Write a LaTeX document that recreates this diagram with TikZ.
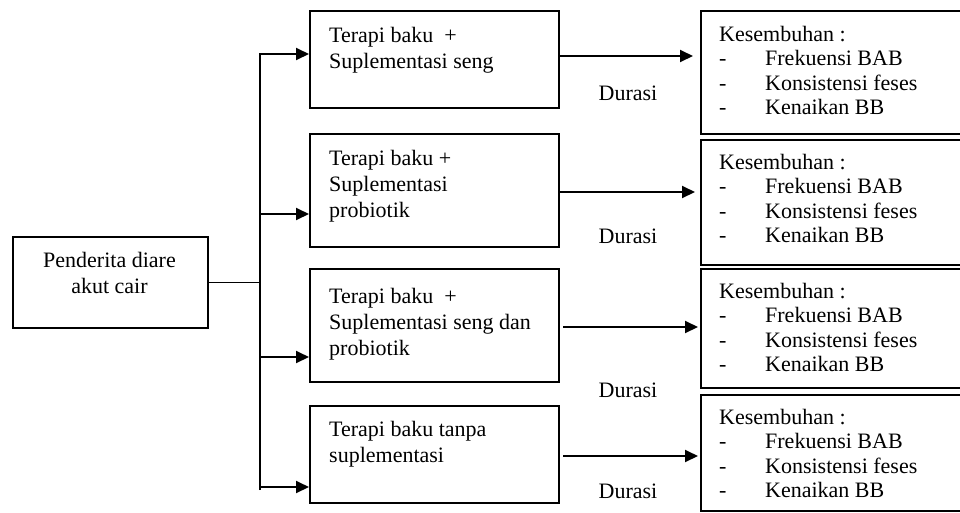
\documentclass[tikz,border=0pt]{standalone}
\usepackage{fontspec}
\setmainfont{Liberation Serif}
\usetikzlibrary{arrows.meta}

% multi-line text whose reference point is the baseline of its first line
\newcommand{\boxlines}[2][250pt]{\parbox[t]{#1}{\raggedright #2}}
\newcommand{\centerlines}[2][190pt]{\parbox[t]{#1}{\centering #2}}
\newcommand{\dashitem}[1]{\makebox[46pt][l]{-}#1}

\tikzset{
  box/.style={draw, line width=1.9pt, inner sep=0pt, anchor=north west},
  txt/.style={inner sep=0pt, font=\fontsize{22}{26}\selectfont},
  restxt/.style={inner sep=0pt, anchor=base west, font=\fontsize{22}{24.6}\selectfont},
  link/.style={line width=1.9pt},
  arr/.style={link, -{Triangle[length=13pt,width=12pt]}},
}

\begin{document}
\begin{tikzpicture}[x=1pt,y=-1pt]
\useasboundingbox (0,0) rectangle (960,512);
\clip (0,0) rectangle (960,512);

% source
\node[box, minimum width=195pt, minimum height=91pt] (src) at (12,236) {};
\node[txt, anchor=base] (srct) at (109.5,267) {\centerlines{Penderita diare\\akut cair}};

% treatment boxes
\node[box, minimum width=249pt, minimum height=97pt]  (m1) at (309,10)  {};
\node[box, minimum width=249pt, minimum height=113pt] (m2) at (309,133) {};
\node[box, minimum width=249pt, minimum height=113pt] (m3) at (309,268) {};
\node[box, minimum width=249pt, minimum height=97pt]  (m4) at (309,405) {};

\node[txt, anchor=base west] (m1t) at (329,42)  {\boxlines{Terapi baku\ \ +\\Suplementasi seng}};
\node[txt, anchor=base west] (m2t) at (329,165) {\boxlines{Terapi baku +\\Suplementasi\\probiotik}};
\node[txt, anchor=base west] (m3t) at (329,303) {\boxlines{Terapi baku\ \ +\\Suplementasi seng dan\\probiotik}};
\node[txt, anchor=base west] (m4t) at (329,436) {\boxlines{Terapi baku tanpa\\suplementasi}};

% outcome boxes (running off the right edge)
\node[box, minimum width=280pt, minimum height=123pt] (r1) at (700,10)  {};
\node[box, minimum width=280pt, minimum height=125pt] (r2) at (700,139) {};
\node[box, minimum width=280pt, minimum height=119pt] (r3) at (700,268) {};
\node[box, minimum width=280pt, minimum height=116pt] (r4) at (700,394) {};

\foreach \n/\y in {1/41, 2/169, 3/298, 4/424}{
  \node[restxt] (r\n t) at (719,\y)
    {\boxlines[240pt]{Kesembuhan :\\\dashitem{Frekuensi BAB}\\\dashitem{Konsistensi feses}\\\dashitem{Kenaikan BB}}};
}

% duration labels
\node[txt, anchor=base] (d1) at (628,100) {Durasi};
\node[txt, anchor=base] (d2) at (628,243) {Durasi};
\node[txt, anchor=base] (d3) at (628,397) {Durasi};
\node[txt, anchor=base] (d4) at (628,498) {Durasi};

% branching from the source
\coordinate (trunk) at (260,54);
\coordinate (tbot) at (260,490);
\coordinate (b2) at (260,214);
\coordinate (b3) at (260,357);
\coordinate (b4) at (260,487);
\draw[link] (src.east) -- (src.east -| trunk);
\draw[arr] (tbot) -- (trunk) -- (trunk -| m1.west);
\draw[arr] (b2) -- (b2 -| m2.west);
\draw[arr] (b3) -- (b3 -| m3.west);
\draw[arr] (b4) -- (b4 -| m4.west);

% treatment to outcome
\coordinate (e1) at (693,56);
\coordinate (e2) at (695,192);
\coordinate (s3) at (563,327);
\coordinate (e3) at (698,327);
\coordinate (s4) at (563,456);
\coordinate (e4) at (698,456);
\draw[arr] (m1.east |- e1) -- (e1);
\draw[arr] (m2.east |- e2) -- (e2);
\draw[arr] (s3) -- (e3);
\draw[arr] (s4) -- (e4);
\end{tikzpicture}
\end{document}
